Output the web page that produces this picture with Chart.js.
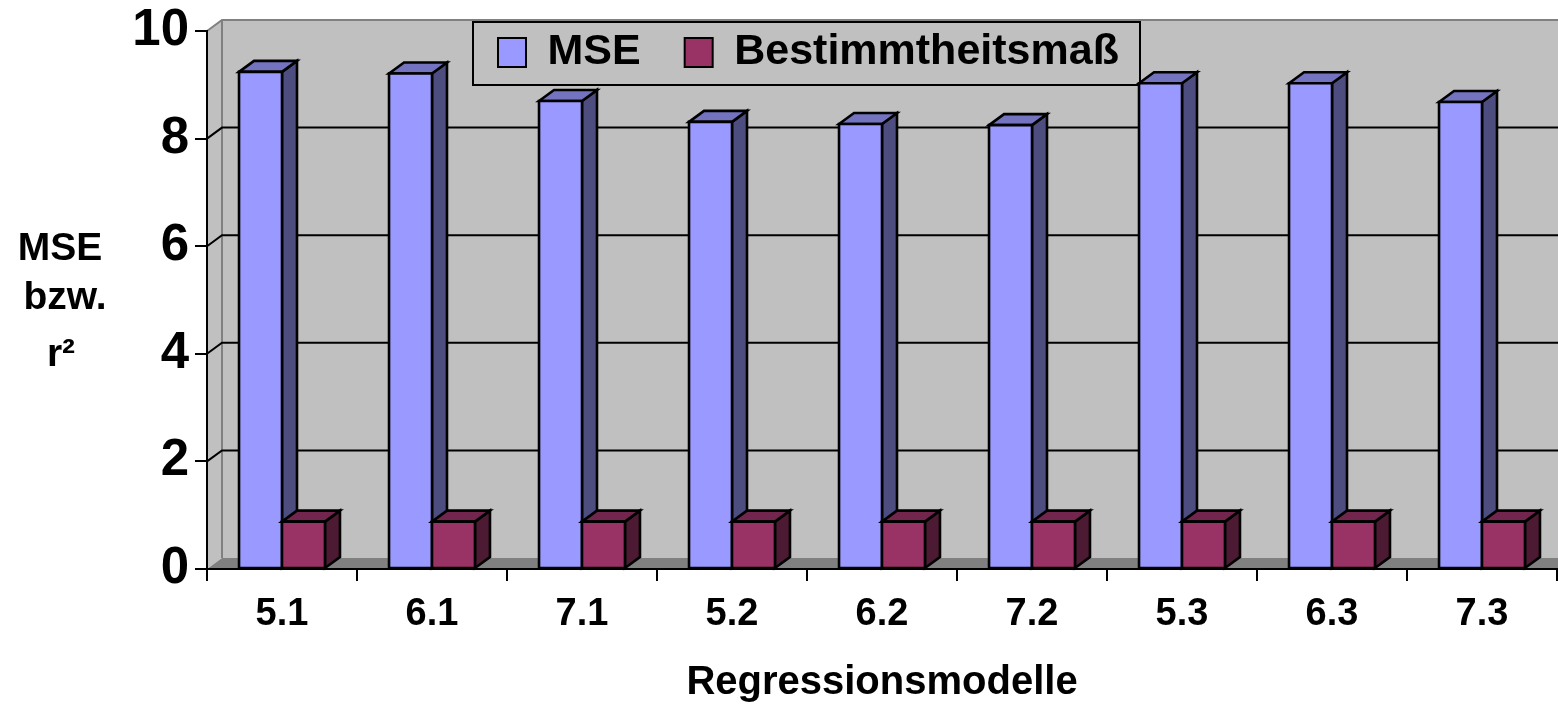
<!DOCTYPE html>
<html>
<head>
<meta charset="utf-8">
<title>Regressionsmodelle</title>
<script src="https://cdn.jsdelivr.net/npm/chart.js@4/dist/chart.umd.min.js"></script>
<style>
    html, body { margin: 0; padding: 0; background: #fff; }
    #chart { display: block; }
</style>
</head>
<body>
<canvas id="chart" width="1558" height="706"></canvas>
<script>
const categories = ['5.1', '6.1', '7.1', '5.2', '6.2', '7.2', '5.3', '6.3', '7.3'];
const mseValues = [9.24, 9.21, 8.70, 8.31, 8.27, 8.25, 9.03, 9.03, 8.68];
const r2Values = [0.88, 0.88, 0.88, 0.88, 0.88, 0.88, 0.88, 0.88, 0.88];
const seriesLabels = ['MSE', 'Bestimmtheitsmaß'];
const yTicks = { min: 0, max: 10, step: 2 };
const xTitle = 'Regressionsmodelle';
const yTitleLines = ['MSE', 'bzw.', 'r²'];

document.addEventListener('DOMContentLoaded', function() {

    const FONT = "'Liberation Sans', Arial, sans-serif";
    const DX = 15, DY = 11;          // depth of the 3d look
    const WALL = '#c0c0c0';
    const WALL_EDGE = '#808080';
    const FLOOR = '#808080';
    const faces = [
        { front: '#9999ff', top: '#7373bf', side: '#4d4d80' },
        { front: '#993366', top: '#73264d', side: '#4d1a33' }
    ];

    function poly(ctx, pts, fill, stroke, lw) {
        ctx.beginPath();
        ctx.moveTo(pts[0][0], pts[0][1]);
        for (let i = 1; i < pts.length; i++) ctx.lineTo(pts[i][0], pts[i][1]);
        ctx.closePath();
        if (fill) { ctx.fillStyle = fill; ctx.fill(); }
        if (stroke) { ctx.strokeStyle = stroke; ctx.lineWidth = lw || 2; ctx.stroke(); }
    }

    /* ---------------- walls, floor, gridlines, 3d bars ---------------- */
    const wallsPlugin = {
        id: 'walls',
        beforeLayout(chart) {
            // legend floats over the back wall, so it should take no layout space
            const lg = chart.legend;
            if (lg && !lg._floating) {
                const fit = lg.fit;
                lg.fit = function() { fit.call(this); this.height = 0; };
                lg._floating = true;
            }
        },
        afterLayout(chart) {
            const lg = chart.legend;
            const pad = lg.options.labels.padding;
            lg.left = 498 - pad;
            lg.top = 31 - pad;
            lg.right = lg.left + 1000;
            lg.bottom = lg.top + 160;
        },
        beforeDraw(chart) {
            const { ctx, chartArea: a, scales: { y } } = chart;
            const far = chart.width + DX;
            ctx.save();
            ctx.lineJoin = 'miter';

            // back wall
            ctx.fillStyle = WALL;
            ctx.fillRect(a.left + DX, a.top - DY, far - a.left, a.bottom - a.top);

            // left side wall
            poly(ctx, [[a.left, a.top], [a.left + DX, a.top - DY], [a.left + DX, a.bottom - DY], [a.left, a.bottom]], WALL);

            // floor
            poly(ctx, [[a.left, a.bottom], [a.left + DX, a.bottom - DY], [far, a.bottom - DY], [far, a.bottom]], FLOOR);

            // back corner
            ctx.strokeStyle = WALL_EDGE;
            ctx.lineWidth = 2;
            ctx.beginPath();
            ctx.moveTo(a.left + DX, a.top - DY);
            ctx.lineTo(a.left + DX, a.bottom - DY);
            ctx.stroke();

            // gridlines on side + back wall
            y.ticks.forEach(t => {
                if (t.value === y.min) return;
                const py = y.getPixelForValue(t.value);
                ctx.strokeStyle = t.value === y.max ? WALL_EDGE : '#000';
                ctx.lineWidth = 2;
                ctx.beginPath();
                ctx.moveTo(a.left, py);
                ctx.lineTo(a.left + DX, py - DY);
                ctx.lineTo(far, py - DY);
                ctx.stroke();
            });

            // legend frame
            ctx.fillStyle = WALL;
            ctx.fillRect(473, 22, 667, 63);
            ctx.strokeStyle = '#000';
            ctx.lineWidth = 2;
            ctx.strokeRect(473, 22, 667, 63);

            ctx.restore();
        },
        afterDatasetsDraw(chart) {
            const ctx = chart.ctx;
            ctx.save();
            ctx.lineJoin = 'miter';
            for (let i = 0; i < categories.length; i++) {
                chart.data.datasets.forEach((ds, d) => {
                    const bar = chart.getDatasetMeta(d).data[i];
                    const { x, y, base, width } = bar.getProps(['x', 'y', 'base', 'width'], true);
                    const l = x - width / 2, r = x + width / 2;
                    const f = faces[d];
                    poly(ctx, [[r, y], [r + DX, y - DY], [r + DX, base - DY], [r, base]], f.side, '#000', 2.6);
                    poly(ctx, [[l, y], [l + DX, y - DY], [r + DX, y - DY], [r, y]], f.top, '#000', 2.6);
                    poly(ctx, [[l, y], [r, y], [r, base], [l, base]], f.front, '#000', 2.6);
                });
            }
            ctx.restore();
        },
        afterDraw(chart) {
            // horizontal y-axis title
            const ctx = chart.ctx;
            const xs = [60, 65, 61];
            const baselines = [260, 309, 366];
            ctx.save();
            ctx.font = 'bold 39px ' + FONT;
            ctx.fillStyle = '#000';
            ctx.textAlign = 'center';
            ctx.textBaseline = 'alphabetic';
            yTitleLines.forEach((line, i) => ctx.fillText(line, xs[i], baselines[i]));
            ctx.restore();
        }
    };

    const canvas = document.getElementById('chart');

    new Chart(canvas, {
        type: 'bar',
        data: {
            labels: categories,
            datasets: [
                {
                    label: seriesLabels[0],
                    data: mseValues,
                    backgroundColor: faces[0].front,
                    borderColor: '#000',
                    borderWidth: 2
                },
                {
                    label: seriesLabels[1],
                    data: r2Values,
                    backgroundColor: faces[1].front,
                    borderColor: '#000',
                    borderWidth: 2
                }
            ]
        },
        options: {
            responsive: false,
            animation: false,
            events: [],
            categoryPercentage: 0.573,
            barPercentage: 1,
            layout: { padding: { top: 31, right: 1, left: 0, bottom: 0 } },
            scales: {
                x: {
                    afterFit: (s) => { s.height = 137; },
                    grid: { offset: true, drawOnChartArea: false, color: '#000', lineWidth: 2, tickLength: 12 },
                    border: { color: '#000', width: 2 },
                    ticks: {
                        color: '#000',
                        padding: 11,
                        font: { family: FONT, size: 38, weight: 'bold', lineHeight: 1.2 }
                    },
                    title: {
                        display: true,
                        text: xTitle,
                        color: '#000',
                        padding: { top: 0, bottom: 3 },
                        font: { family: FONT, size: 40, weight: 'bold', lineHeight: 1 }
                    }
                },
                y: {
                    min: yTicks.min,
                    max: yTicks.max,
                    afterFit: (s) => { s.width = 207; },
                    grid: { drawOnChartArea: false, color: '#000', lineWidth: 2, tickLength: 12 },
                    border: { color: '#000', width: 2 },
                    ticks: {
                        stepSize: yTicks.step,
                        color: '#000',
                        padding: 6,
                        font: { family: FONT, size: 51, weight: 'bold', lineHeight: 0.9 }
                    }
                }
            },
            plugins: {
                tooltip: { enabled: false },
                legend: {
                    position: 'top',
                    align: 'start',
                    labels: {
                        color: '#000',
                        boxWidth: 28,
                        boxHeight: 29,
                        padding: 44,
                        font: { family: FONT, size: 43, weight: 'bold' }
                    }
                }
            }
        },
        plugins: [wallsPlugin]
    });
});
</script>
</body>
</html>
